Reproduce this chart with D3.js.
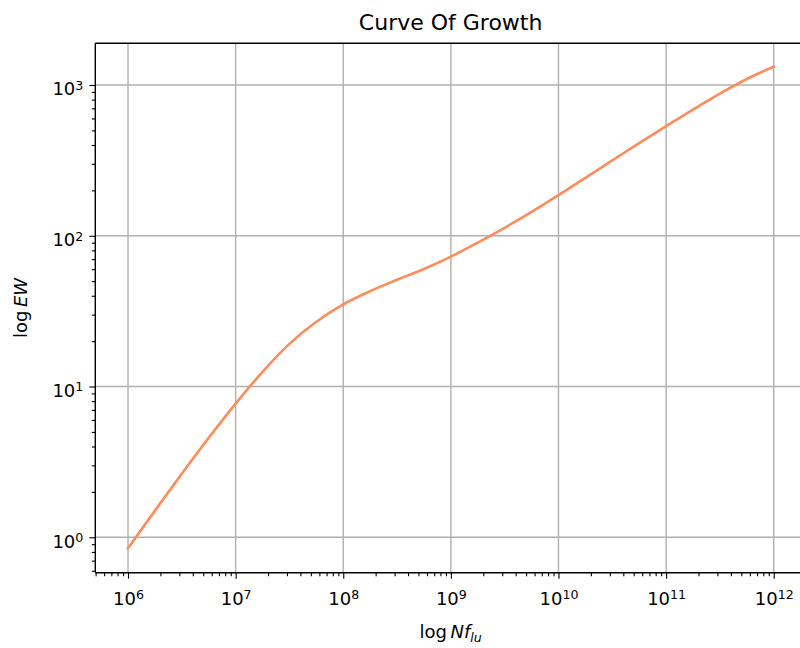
<!DOCTYPE html>
<html>
<head>
<meta charset="utf-8">
<script src="https://cdn.jsdelivr.net/npm/d3@7/dist/d3.min.js"></script>
<style>
  html, body { margin: 0; padding: 0; background: #ffffff; }
  svg { display: block; }
  text { font-family: "DejaVu Sans", sans-serif; fill: #000; }
</style>
</head>
<body>
<svg id="chart" width="800" height="648"></svg>
<script>
// Column density times oscillator strength (N f_lu)
const columnDensity = [1.0e6, 1.778e6, 3.162e6, 5.623e6, 1.0e7, 1.778e7, 3.162e7, 5.623e7,
  1.0e8, 1.778e8, 3.162e8, 5.623e8, 1.0e9, 1.778e9, 3.162e9, 5.623e9,
  1.0e10, 1.778e10, 3.162e10, 5.623e10, 1.0e11, 1.778e11, 3.162e11, 5.623e11, 1.0e12];
// Equivalent width at each column density
const equivalentWidth = [0.845, 1.503, 2.642, 4.571, 7.709, 12.53, 19.19, 26.92,
  35.08, 42.95, 51.05, 60.26, 72.78, 90.16, 113.0, 143.9,
  186.2, 242.1, 316.2, 412.1, 533.3, 687.1, 877.0, 1096, 1321];
// Major tick exponents on each axis
const xTickExponents = [6, 7, 8, 9, 10, 11, 12];
const yTickExponents = [0, 1, 2, 3];

const svg = d3.select("#chart");
const plot = { left: 95.3, right: 806, top: 43.3, bottom: 572.7 };

const x = d3.scaleLog().domain([Math.pow(10, 5.696), Math.pow(10, 12.3)]).range([plot.left, plot.right]);
const y = d3.scaleLog().domain([Math.pow(10, -0.2348), Math.pow(10, 3.2766)]).range([plot.bottom, plot.top]);

const xMajor = xTickExponents.map(e => Math.pow(10, e));
const yMajor = yTickExponents.map(e => Math.pow(10, e));

function minorTicks(scale) {
  const [a, b] = scale.domain();
  const out = [];
  for (let e = Math.floor(Math.log10(a)); e <= Math.ceil(Math.log10(b)); e++) {
    for (let m = 2; m <= 9; m++) {
      const v = m * Math.pow(10, e);
      if (v >= a && v <= b) out.push(v);
    }
  }
  return out;
}

// Grid lines at major ticks
const grid = svg.append("g");
grid.selectAll("line.gx").data(xMajor).join("line")
  .attr("x1", d => x(d)).attr("x2", d => x(d))
  .attr("y1", plot.top).attr("y2", plot.bottom)
  .attr("stroke", "#b0b0b0").attr("stroke-width", 1.4);
grid.selectAll("line.gy").data(yMajor).join("line")
  .attr("y1", d => y(d)).attr("y2", d => y(d))
  .attr("x1", plot.left).attr("x2", plot.right)
  .attr("stroke", "#b0b0b0").attr("stroke-width", 1.4);

// Curve of growth
const line = d3.line()
  .x((d, i) => x(columnDensity[i]))
  .y((d, i) => y(equivalentWidth[i]))
  .curve(d3.curveMonotoneX);
svg.append("path")
  .datum(columnDensity)
  .attr("d", line)
  .attr("fill", "none")
  .attr("stroke", "#ff8c5a")
  .attr("stroke-width", 2.6)
  .attr("stroke-linecap", "square");

// Axes: minor ticks first, then labelled major ticks
function styleAxis(g) {
  g.select(".domain").remove();
  g.selectAll(".tick line").attr("stroke", "#000").attr("stroke-width", 1.1);
}
function powerLabel(sel, exps) {
  sel.selectAll(".tick text").each(function(d, i) {
    const t = d3.select(this);
    t.text(null);
    t.append("tspan").text("10");
    t.append("tspan").attr("dy", "-0.45em").attr("font-size", "0.7em").text(exps[i]);
  });
}

const xMinorAxis = svg.append("g").attr("transform", `translate(0,${plot.bottom})`)
  .call(d3.axisBottom(x).tickValues(minorTicks(x)).tickSize(3.5).tickFormat(""));
styleAxis(xMinorAxis);
const xAxis = svg.append("g").attr("transform", `translate(0,${plot.bottom})`)
  .call(d3.axisBottom(x).tickValues(xMajor).tickSize(6).tickPadding(10).tickFormat(() => ""));
styleAxis(xAxis);
xAxis.selectAll(".tick text").attr("font-size", 18).attr("font-family", "DejaVu Sans").attr("dy", "0.9em");
powerLabel(xAxis, xTickExponents);

const yMinorAxis = svg.append("g").attr("transform", `translate(${plot.left},0)`)
  .call(d3.axisLeft(y).tickValues(minorTicks(y)).tickSize(3.5).tickFormat(""));
styleAxis(yMinorAxis);
const yAxis = svg.append("g").attr("transform", `translate(${plot.left},0)`)
  .call(d3.axisLeft(y).tickValues(yMajor).tickSize(6).tickPadding(6).tickFormat(() => ""));
styleAxis(yAxis);
yAxis.selectAll(".tick text").attr("font-size", 18).attr("font-family", "DejaVu Sans").attr("dy", "0.55em");
powerLabel(yAxis, yTickExponents);

// Spines
const spines = svg.append("g").attr("stroke", "#000").attr("stroke-width", 1.4).attr("fill", "none");
spines.append("line").attr("x1", plot.left).attr("x2", plot.right).attr("y1", plot.top).attr("y2", plot.top);
spines.append("line").attr("x1", plot.left).attr("x2", plot.right).attr("y1", plot.bottom).attr("y2", plot.bottom);
spines.append("line").attr("x1", plot.left).attr("x2", plot.left).attr("y1", plot.top).attr("y2", plot.bottom);
spines.append("line").attr("x1", plot.right).attr("x2", plot.right).attr("y1", plot.top).attr("y2", plot.bottom);

// Title
svg.append("text")
  .attr("x", (plot.left + plot.right) / 2).attr("y", 30)
  .attr("text-anchor", "middle").attr("font-size", 22)
  .text("Curve Of Growth");

// X label: log N f_lu
const xl = svg.append("text")
  .attr("x", (plot.left + plot.right) / 2).attr("y", 638)
  .attr("text-anchor", "middle").attr("font-size", 18);
xl.append("tspan").text("log\u2009");
xl.append("tspan").attr("font-style", "italic").text("Nf");
xl.append("tspan").attr("font-style", "italic").attr("font-size", "0.7em").attr("dy", "0.3em").text("lu");

// Y label: log EW
const yl = svg.append("text")
  .attr("transform", `translate(27,${(plot.top + plot.bottom) / 2}) rotate(-90)`)
  .attr("text-anchor", "middle").attr("font-size", 18);
yl.append("tspan").text("log\u2009");
yl.append("tspan").attr("font-style", "italic").text("EW");
</script>
</body>
</html>
